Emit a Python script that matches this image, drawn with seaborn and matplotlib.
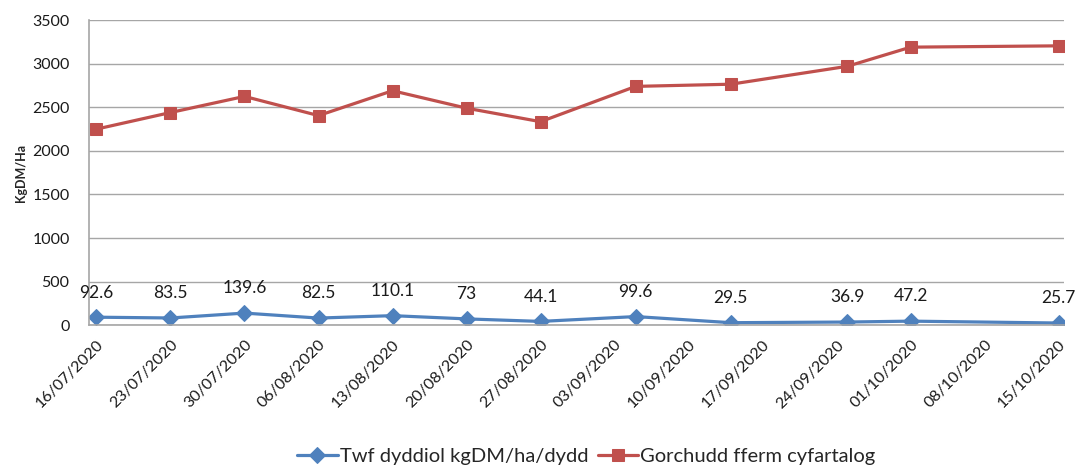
import matplotlib
matplotlib.use("Agg")
import matplotlib.pyplot as plt
import matplotlib.dates as mdates
import pandas as pd
import seaborn as sns

# data
dates = ["16/07/2020", "23/07/2020", "30/07/2020", "06/08/2020", "13/08/2020", "20/08/2020",
         "27/08/2020", "05/09/2020", "14/09/2020", "25/09/2020", "01/10/2020", "15/10/2020"]
growth = [92.6, 83.5, 139.6, 82.5, 110.1, 73, 44.1, 99.6, 29.5, 36.9, 47.2, 25.7]
cover = [2250, 2440, 2625, 2405, 2690, 2490, 2335, 2740, 2765, 2970, 3190, 3205]
growth_name = "Twf dyddiol kgDM/ha/dydd"
cover_name = "Gorchudd fferm cyfartalog"

df = pd.DataFrame({"date": pd.to_datetime(dates, dayfirst=True),
                   "growth": growth, "cover": cover})

blue = "#4F81BD"
red = "#C0504D"
grid_col = "#A6A6A6"

sns.set_style("white")
plt.rcParams["font.family"] = ["Lato", "DejaVu Sans"]

fig = plt.figure(figsize=(10.78, 4.68), dpi=100)
ax = fig.add_axes([0.0826, 0.305, 0.9044, 0.652])

sns.lineplot(data=df, x="date", y="growth", ax=ax, color=blue, lw=2.3,
             marker="D", markersize=8, markeredgecolor=blue, label=growth_name)
sns.lineplot(data=df, x="date", y="cover", ax=ax, color=red, lw=2.3,
             marker="s", markersize=9, markeredgecolor=red, label=cover_name)

# value labels on the growth line
for d, v in zip(df["date"], df["growth"]):
    ax.annotate(f"{v:g}", (d, v), xytext=(0, 12), textcoords="offset points",
                ha="center", va="bottom", fontsize=12.5, color="#1a1a1a")

ax.set_ylim(0, 3500)
ax.set_yticks(range(0, 3501, 500))
start = df["date"].iloc[0]
end = df["date"].iloc[-1]
ax.set_xlim(start - pd.Timedelta(days=0.7), end + pd.Timedelta(days=0.5))
ax.set_xticks(pd.date_range(start, end, freq="7D"))
ax.xaxis.set_major_formatter(mdates.DateFormatter("%d/%m/%Y"))
for lab in ax.get_xticklabels():
    lab.set_rotation(45)
    lab.set_ha("right")
    lab.set_rotation_mode("anchor")
ax.tick_params(axis="x", labelsize=11.5, pad=9, length=0, colors="#1a1a1a")
ax.tick_params(axis="y", labelsize=11.5, pad=14, length=0, colors="#1a1a1a")

ax.grid(axis="y", color=grid_col, lw=1)
ax.set_axisbelow(True)
for s in ["top", "right"]:
    ax.spines[s].set_visible(False)
for s in ["left", "bottom"]:
    ax.spines[s].set_color(grid_col)
    ax.spines[s].set_linewidth(1.2)

ax.set_xlabel("")
ax.set_ylabel("KgDM/Ha", fontsize=9, fontweight="bold", labelpad=4)

ax.get_legend().remove()
h, l = ax.get_legend_handles_labels()
fig.legend(h, l, loc="center", bbox_to_anchor=(0.544, 0.025), ncol=2, frameon=False,
           fontsize=14.5, handlelength=2.0, handletextpad=0.1, columnspacing=0.5)

fig.savefig("out.png", dpi=100)
